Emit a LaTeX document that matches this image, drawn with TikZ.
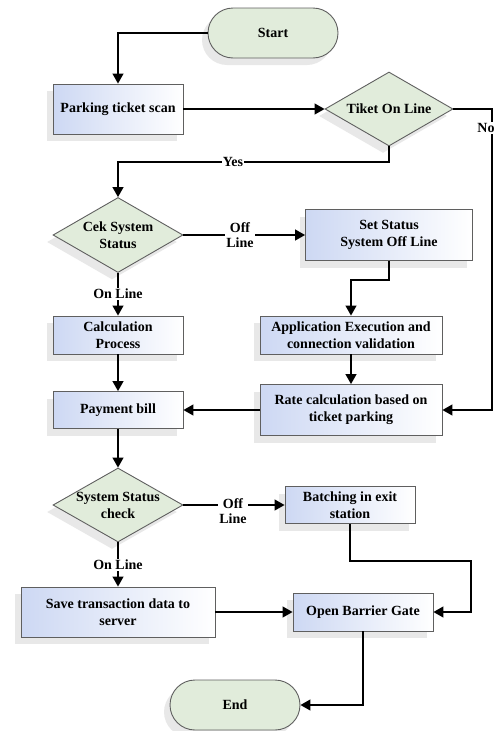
\documentclass[tikz,border=0pt]{standalone}
\usepackage{fontspec}
\setmainfont{Liberation Serif}
\usetikzlibrary{shapes,arrows.meta,positioning,calc,shadows}

\definecolor{boxblue}{RGB}{205,216,243}
\definecolor{decgreen}{RGB}{225,236,219}
\definecolor{edgegray}{RGB}{95,95,95}

\tikzset{
  base/.style={draw=edgegray, line width=0.9pt, font=\fontsize{14}{17}\selectfont\bfseries,
    align=center, inner sep=2pt,
    drop shadow={shadow xshift=-6pt, shadow yshift=-7pt, opacity=0.18}},
  procbox/.style={base, rectangle, left color=boxblue, right color=white},
  termbox/.style={base, rectangle, rounded corners=25pt, fill=decgreen,
    minimum width=130pt, minimum height=50pt},
  decbox/.style={base, diamond, aspect=1.75, inner sep=-3pt, fill=decgreen},
  arr/.style={line width=1.3pt, -{Triangle[length=10pt,width=11pt]}},
  lbl/.style={fill=white, inner sep=1pt, font=\fontsize{14}{15}\selectfont\bfseries, align=center}
}

\begin{document}
\begin{tikzpicture}[x=1pt,y=-1pt]
    \useasboundingbox (0,0) rectangle (498,731);

    \node[termbox] (start) at (273,33) {Start};
    \node[procbox, minimum width=130pt, minimum height=50pt] (scan) at (118,109) {Parking ticket scan};
    \node[decbox, minimum width=128pt, minimum height=74pt] (tiket) at (389,109) {Tiket On Line};
    \node[decbox, minimum width=130pt, minimum height=75pt] (cek) at (118,235) {Cek System\\Status};
    \node[procbox, minimum width=167pt, minimum height=51pt] (setoff) at (389,235) {Set Status\\System Off Line};
    \node[procbox, minimum width=182pt, minimum height=38pt] (appexec) at (351,335) {Application Execution and\\connection validation};
    \node[procbox, minimum width=182pt, minimum height=51pt] (rate) at (351,410) {Rate calculation based on\\ticket parking};
    \node[procbox, minimum width=130pt, minimum height=38pt] (calc) at (118,335) {Calculation\\Process};
    \node[procbox, minimum width=130pt, minimum height=37pt] (pay) at (118,410) {Payment bill};
    \node[decbox, minimum width=130pt, minimum height=74pt] (syscheck) at (118,505) {System Status\\check};
    \node[procbox, minimum width=130pt, minimum height=37pt] (batch) at (350,505) {Batching in exit\\station};
    \node[procbox, minimum width=194pt, minimum height=50pt] (save) at (118,612) {Save transaction data to\\server};
    \node[procbox, minimum width=140pt, minimum height=38pt] (gate) at (363,612) {Open Barrier Gate};
    \node[termbox] (finish) at (235,705) {End};

    % top part
    \draw[arr] (start.west) -| (scan.north);
    \draw[arr] (scan.east) -- (tiket.west);
    \coordinate (nocorner) at (492,109);
    \draw[arr] (tiket.east) -- (nocorner) |- (rate.east);
    \node[lbl] (nolbl) at (486,128) {No};
    \coordinate (yesturn) at (389,162);
    \draw[arr] (tiket.south) -- (yesturn) -| (cek.north);
    \node[lbl] (yeslbl) at (233,162) {Yes};

    % off line branch
    \draw[arr] (cek.east) -- (setoff.west);
    \node[lbl] (offone) at (240,235) {Off\\Line};
    \coordinate (setturn) at (389,280);
    \draw[arr] (setoff.south) -- (setturn) -| (appexec.north);
    \draw[arr] (appexec.south) -- (rate.north);
    \draw[arr] (rate.west) -- (pay.east);

    % on line branch
    \draw[arr] (cek.south) -- (calc.north);
    \node[lbl] (onone) at (118,294) {On Line};
    \draw[arr] (calc.south) -- (pay.north);
    \draw[arr] (pay.south) -- (syscheck.north);

    % exit
    \draw[arr] (syscheck.east) -- (batch.west);
    \node[lbl] (offtwo) at (233,511) {Off\\Line};
    \draw[arr] (syscheck.south) -- (save.north);
    \node[lbl] (ontwo) at (118,565) {On Line};
    \coordinate (batchturn) at (471,561);
    \draw[arr] (batch.south) |- (batchturn) |- (gate.east);
    \draw[arr] (save.east) -- (gate.west);
    \draw[arr] (gate.south) |- (finish.east);
\end{tikzpicture}
\end{document}
